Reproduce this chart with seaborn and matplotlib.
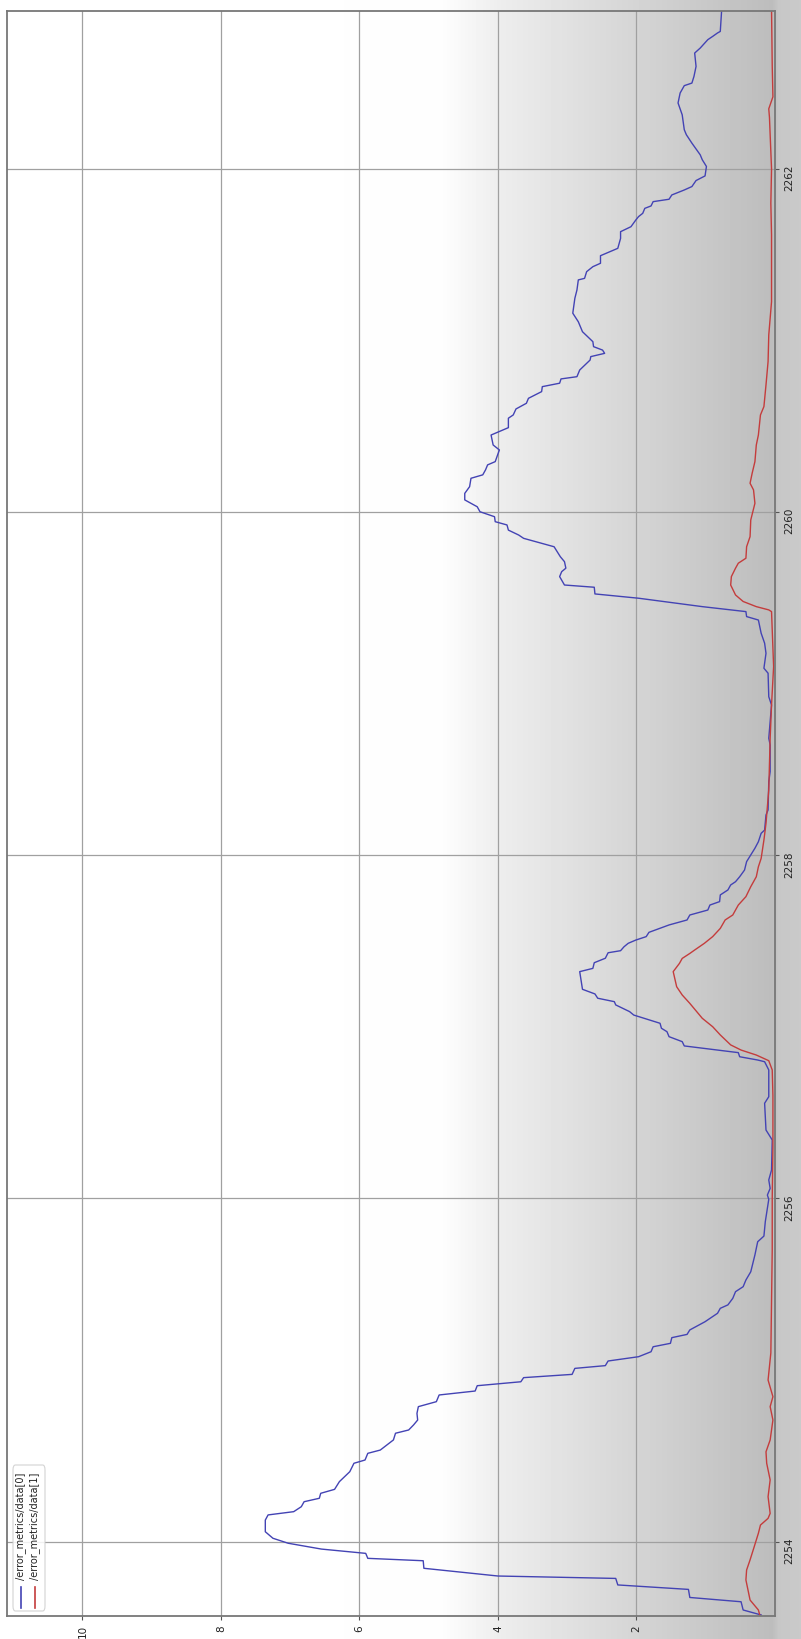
import numpy as np
import pandas as pd
import matplotlib
matplotlib.use('Agg')
import matplotlib.pyplot as plt
from matplotlib.lines import Line2D
from matplotlib.patches import FancyBboxPatch
import seaborn as sns

# time stamps (s) and values
t0 = [2253.573, 2253.602, 2253.650, 2253.675, 2253.722, 2253.748, 2253.786, 2253.800,
      2253.845, 2253.889, 2253.903, 2253.932, 2253.957, 2253.991, 2254.020, 2254.058,
      2254.126, 2254.156, 2254.175, 2254.204, 2254.233, 2254.253, 2254.282, 2254.305,
      2254.350, 2254.408, 2254.457, 2254.476, 2254.515, 2254.534, 2254.593, 2254.632,
      2254.651, 2254.680, 2254.709, 2254.748, 2254.787, 2254.816, 2254.855, 2254.878,
      2254.909, 2254.932, 2254.956, 2254.975, 2255.010, 2255.026, 2255.053, 2255.078,
      2255.107, 2255.136, 2255.156, 2255.189, 2255.208, 2255.234, 2255.282, 2255.331,
      2255.360, 2255.380, 2255.418, 2255.457, 2255.486, 2255.525, 2255.573, 2255.671,
      2255.748, 2255.781, 2255.865, 2255.943, 2255.995, 2256.020, 2256.059, 2256.108,
      2256.166, 2256.341, 2256.399, 2256.555, 2256.593, 2256.749, 2256.797, 2256.807,
      2256.826, 2256.850, 2256.889, 2256.914, 2256.943, 2256.972, 2256.992, 2257.021,
      2257.069, 2257.089, 2257.128, 2257.147, 2257.167, 2257.192, 2257.219, 2257.322,
      2257.341, 2257.374, 2257.400, 2257.432, 2257.444, 2257.467, 2257.487, 2257.506,
      2257.526, 2257.551, 2257.594, 2257.623, 2257.652, 2257.681, 2257.710, 2257.730,
      2257.769, 2257.798, 2257.827, 2257.846, 2257.875, 2257.914, 2257.963, 2258.002,
      2258.041, 2258.079, 2258.128, 2258.147, 2258.235, 2258.264, 2258.429, 2258.487,
      2258.643, 2258.682, 2258.876, 2258.924, 2259.061, 2259.090, 2259.177, 2259.236,
      2259.294, 2259.371, 2259.391, 2259.420, 2259.449, 2259.498, 2259.523, 2259.562,
      2259.575, 2259.624, 2259.653, 2259.673, 2259.711, 2259.740, 2259.798, 2259.847,
      2259.866, 2259.895, 2259.925, 2259.944, 2259.973, 2260.002, 2260.031, 2260.071,
      2260.109, 2260.148, 2260.197, 2260.217, 2260.246, 2260.275, 2260.294, 2260.362,
      2260.391, 2260.449, 2260.492, 2260.547, 2260.566, 2260.601, 2260.634, 2260.663,
      2260.702, 2260.731, 2260.751, 2260.776, 2260.789, 2260.828, 2260.886, 2260.906,
      2260.925, 2260.944, 2260.964, 2260.993, 2261.051, 2261.109, 2261.159, 2261.246,
      2261.294, 2261.353, 2261.362, 2261.401, 2261.430, 2261.450, 2261.494, 2261.537,
      2261.595, 2261.634, 2261.663, 2261.702, 2261.722, 2261.741, 2261.770, 2261.784,
      2261.809, 2261.823, 2261.848, 2261.877, 2261.897, 2261.932, 2261.959, 2262.014,
      2262.053, 2262.082, 2262.150, 2262.199, 2262.228, 2262.315, 2262.384, 2262.442,
      2262.485, 2262.500, 2262.539, 2262.597, 2262.675, 2262.704, 2262.753, 2262.772,
      2262.792, 2262.801, 2262.928]
data0 = [0.20, 0.46, 0.49, 1.23, 1.25, 2.27, 2.30, 4.00,
         5.07, 5.08, 5.88, 5.91, 6.55, 7.03, 7.25, 7.36,
         7.36, 7.32, 6.95, 6.84, 6.80, 6.58, 6.56, 6.36,
         6.29, 6.14, 6.08, 5.92, 5.88, 5.70, 5.51, 5.48,
         5.29, 5.22, 5.16, 5.17, 5.15, 4.89, 4.85, 4.33,
         4.30, 3.67, 3.63, 2.93, 2.89, 2.45, 2.41, 1.97,
         1.79, 1.76, 1.51, 1.49, 1.27, 1.23, 1.01, 0.83,
         0.79, 0.68, 0.61, 0.57, 0.46, 0.42, 0.35, 0.29,
         0.25, 0.16, 0.14, 0.11, 0.09, 0.11, 0.07, 0.09,
         0.05, 0.04, 0.13, 0.15, 0.09, 0.09, 0.15, 0.25,
         0.51, 0.53, 1.31, 1.34, 1.53, 1.56, 1.64, 1.66,
         2.04, 2.10, 2.30, 2.32, 2.56, 2.60, 2.78, 2.82,
         2.63, 2.61, 2.45, 2.41, 2.23, 2.18, 2.12, 2.01,
         1.86, 1.82, 1.53, 1.27, 1.23, 0.97, 0.94, 0.80,
         0.79, 0.68, 0.64, 0.57, 0.51, 0.44, 0.41, 0.35,
         0.29, 0.24, 0.20, 0.15, 0.13, 0.10, 0.09, 0.07,
         0.07, 0.09, 0.05, 0.09, 0.10, 0.16, 0.13, 0.15,
         0.20, 0.24, 0.41, 0.42, 1.05, 1.97, 2.60, 2.61,
         3.04, 3.11, 3.08, 3.02, 3.04, 3.10, 3.19, 3.63,
         3.70, 3.85, 3.87, 4.04, 4.05, 4.26, 4.30, 4.48,
         4.48, 4.41, 4.39, 4.22, 4.18, 4.15, 4.04, 3.98,
         4.07, 4.10, 3.85, 3.85, 3.78, 3.74, 3.59, 3.56,
         3.37, 3.36, 3.11, 3.09, 2.86, 2.82, 2.67, 2.66,
         2.46, 2.49, 2.62, 2.63, 2.78, 2.84, 2.92, 2.89,
         2.86, 2.84, 2.75, 2.72, 2.63, 2.52, 2.52, 2.27,
         2.23, 2.23, 2.08, 2.01, 1.97, 1.91, 1.88, 1.79,
         1.76, 1.53, 1.49, 1.31, 1.20, 1.14, 1.01, 0.99,
         1.05, 1.08, 1.20, 1.28, 1.31, 1.34, 1.40, 1.37,
         1.31, 1.20, 1.17, 1.14, 1.16, 1.08, 0.97, 0.90,
         0.83, 0.79, 0.77]

t1 = [2253.573, 2253.602, 2253.660, 2253.777, 2253.835, 2253.894, 2253.971, 2254.049,
      2254.097, 2254.136, 2254.165, 2254.262, 2254.360, 2254.457, 2254.524, 2254.593,
      2254.709, 2254.787, 2254.845, 2254.942, 2255.100, 2255.400, 2255.700, 2256.000,
      2256.300, 2256.600, 2256.749, 2256.803, 2256.836, 2256.865, 2256.895, 2256.953,
      2257.001, 2257.050, 2257.137, 2257.186, 2257.234, 2257.322, 2257.370, 2257.399,
      2257.428, 2257.448, 2257.487, 2257.526, 2257.574, 2257.623, 2257.652, 2257.710,
      2257.759, 2257.817, 2257.875, 2257.933, 2257.982, 2258.089, 2258.186, 2258.381,
      2258.682, 2258.876, 2259.100, 2259.420, 2259.430, 2259.449, 2259.479, 2259.517,
      2259.575, 2259.624, 2259.673, 2259.702, 2259.731, 2259.798, 2259.857, 2259.954,
      2260.051, 2260.129, 2260.168, 2260.226, 2260.294, 2260.391, 2260.449, 2260.566,
      2260.615, 2260.741, 2260.877, 2261.032, 2261.226, 2261.615, 2261.800, 2262.000,
      2262.300, 2262.350, 2262.420, 2262.600, 2262.928]
data1 = [0.22, 0.24, 0.36, 0.42, 0.41, 0.36, 0.30, 0.24,
         0.21, 0.10, 0.07, 0.10, 0.07, 0.12, 0.13, 0.07,
         0.03, 0.07, 0.03, 0.10, 0.06, 0.05, 0.04, 0.04,
         0.03, 0.03, 0.04, 0.09, 0.27, 0.49, 0.64, 0.79,
         0.90, 1.05, 1.23, 1.34, 1.42, 1.47, 1.38, 1.34,
         1.23, 1.16, 1.02, 0.90, 0.79, 0.72, 0.61, 0.53,
         0.42, 0.35, 0.27, 0.24, 0.20, 0.16, 0.13, 0.09,
         0.07, 0.05, 0.02, 0.05, 0.09, 0.27, 0.46, 0.57,
         0.64, 0.63, 0.57, 0.53, 0.42, 0.41, 0.36, 0.35,
         0.29, 0.31, 0.36, 0.33, 0.29, 0.27, 0.24, 0.21,
         0.16, 0.13, 0.10, 0.09, 0.05, 0.05, 0.06, 0.05,
         0.08, 0.09, 0.03, 0.04, 0.05]

labels = ['/error_metrics/data[0]', '/error_metrics/data[1]']
colors = ['#4343b4', '#c43c3c']
time_ticks = [2254, 2256, 2258, 2260, 2262]
value_ticks = [2, 4, 6, 8, 10]

df = pd.concat([
    pd.DataFrame({'time': t0, 'value': data0, 'series': labels[0]}),
    pd.DataFrame({'time': t1, 'value': data1, 'series': labels[1]}),
])

W, H = 801, 1639
fig = plt.figure(figsize=(W / 100, H / 100), dpi=100)
fig.patch.set_facecolor('white')

# grey shading of the background
bg = fig.add_axes([0, 0, 1, 1], zorder=-5)
px = np.arange(W)
shade = np.interp(px, [0, 440, 500, 634, 772, 778, 801], [1.0, 0.995, 0.93, 0.835, 0.74, 0.78, 0.79])
bg.imshow(np.tile(shade, (2, 1)), cmap='gray', vmin=0, vmax=1, aspect='auto', extent=[0, 1, 0, 1])
bg.axis('off')

# chart is drawn turned on its side: value runs right-to-left, time runs upward
ax = fig.add_axes([7 / W, 1 - 1616 / H, 768 / W, 1605 / H])
ax.set_facecolor('none')
sns.lineplot(data=df, x='value', y='time', hue='series', palette=dict(zip(labels, colors)),
             orient='y', estimator=None, legend=False, linewidth=1.0, ax=ax)

ax.set_xlim(11.09, 0)
ax.set_ylim(2253.567, 2262.92)
ax.set_xticks(value_ticks)
ax.set_yticks(time_ticks)
ax.yaxis.tick_right()
ax.tick_params(axis='both', labelsize=7.5, labelrotation=90, length=3, color='#555555', labelcolor='#222222')
ax.set_xlabel('')
ax.set_ylabel('')
ax.grid(True, color='#a0a0a0', linewidth=0.9)
ax.set_axisbelow(True)
for s in ax.spines.values():
    s.set_color('#777777')
    s.set_linewidth(1.3)

# legend, turned like the chart
fx = lambda x: x / W
fy = lambda y: 1 - y / H
box = FancyBboxPatch((fx(13), fy(1611)), fx(32), 146 / H, boxstyle='round,pad=0,rounding_size=0.003',
                     transform=fig.transFigure, facecolor='white', edgecolor='#cccccc', linewidth=0.8,
                     alpha=0.85, zorder=5)
fig.add_artist(box)
for xc, lab, col in zip([21, 35], labels, colors):
    fig.add_artist(Line2D([fx(xc), fx(xc)], [fy(1608), fy(1587)], color=col, linewidth=1.2,
                          transform=fig.transFigure, zorder=6))
    fig.text(fx(xc), fy(1580), lab, rotation=90, ha='center', va='bottom', fontsize=7,
             color='#222222', zorder=6)

fig.savefig('out.png', dpi=100)
